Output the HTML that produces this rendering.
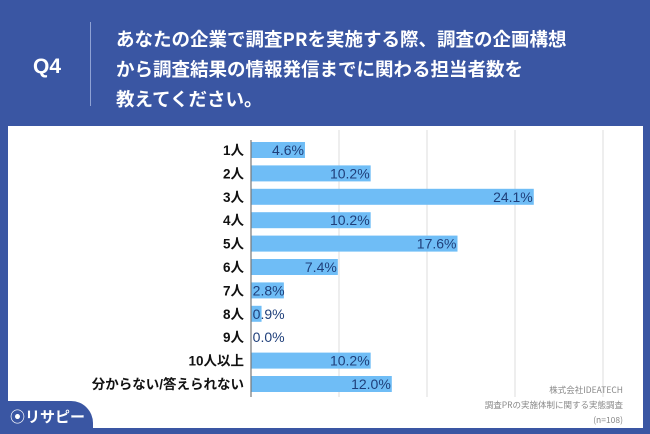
<!DOCTYPE html>
<html><head><meta charset="utf-8"><style>
body{margin:0;width:650px;height:434px;overflow:hidden;background:#3a56a3;font-family:"Liberation Sans","Noto Sans CJK JP",sans-serif;}
#root{position:relative;width:650px;height:434px;}
.q{position:absolute;left:33px;top:55px;color:#fff;font-size:21px;font-weight:bold;}
.div{position:absolute;left:90px;top:22px;width:1px;height:84px;background:#8fa2d4;}
.title{position:absolute;left:116px;top:24px;color:#fff;font-size:18.5px;font-weight:bold;line-height:30px;font-family:"Noto Sans CJK JP",sans-serif;}
.panel{position:absolute;left:8px;top:126px;width:635px;height:302px;background:#fff;}
.tab{position:absolute;left:0;top:401px;width:93px;height:33px;background:#3a56a3;border-top-right-radius:22px;color:#fff;font-size:15px;font-weight:bold;font-family:"Noto Sans CJK JP",sans-serif;}
.foot{position:absolute;right:27px;top:383px;text-align:right;color:#888;font-size:8.5px;line-height:15px;font-family:"Noto Sans CJK JP",sans-serif;}
svg{position:absolute;left:0;top:0;}
</style></head><body><div id="root">
<div class="q">Q4</div>
<div class="div"></div>
<div class="title">あなたの企業で調査PRを実施する際、調査の企画構想<br>から調査結果の情報発信までに関わる担当者数を<br>教えてください。</div>
<div class="panel"></div>
<svg id="chart" width="650" height="434"></svg>
<div class="foot">株式会社IDEATECH<br>調査PRの実施体制に関する実態調査<br>(n=108)</div>
<div class="tab"><span style="position:absolute;left:10px;top:5px;">⦿リサピー</span></div>
</div>
<script>
const categories=["1人","2人","3人","4人","5人","6人","7人","8人","9人","10人以上","分からない/答えられない"];
const values=[4.6,10.2,24.1,10.2,17.6,7.4,2.8,0.9,0.0,10.2,12.0];
const gridTicks=[7.5,15,22.5,30];
const x0=251,pxPer=352/30,y0=150,step=23.4,bh=16;
const X=v=>x0+v*pxPer, Y=i=>y0+i*step;
const svg=document.getElementById('chart');const NS="http://www.w3.org/2000/svg";
function mk(t,a){const e=document.createElementNS(NS,t);for(const k in a)e.setAttribute(k,a[k]);svg.appendChild(e);return e;}
gridTicks.forEach(t=>{const l=mk('line',{x1:X(t),x2:X(t),y1:130,y2:397,stroke:'#ddd','stroke-width':1});

});
categories.forEach((c,i)=>{
 const r=mk('rect',{x:x0,y:Y(i)-bh/2,width:values[i]*pxPer,height:bh,fill:'#6fbdf6'});
 
 
 const lb=mk('text',{x:244,y:Y(i)+5,'text-anchor':'end','font-size':13.5,'font-weight':'bold',fill:'#111','font-family':'"Liberation Sans","Noto Sans CJK JP",sans-serif'});
 lb.textContent=c;
 
 
 const txt=values[i].toFixed(1)+'%';const w=txt.length*7.9;
 const vx=Math.max(X(values[i])-1,x0+2+w);
 const vt=mk('text',{x:vx,y:Y(i)+5,'text-anchor':'end','font-size':14,fill:'#1f3f7a','font-family':'"Liberation Sans",sans-serif'});
 vt.textContent=txt;
 
 
});
const ax=mk('line',{x1:x0,x2:x0,y1:140,y2:397,stroke:'#777','stroke-width':1.2});


</script></body></html>
